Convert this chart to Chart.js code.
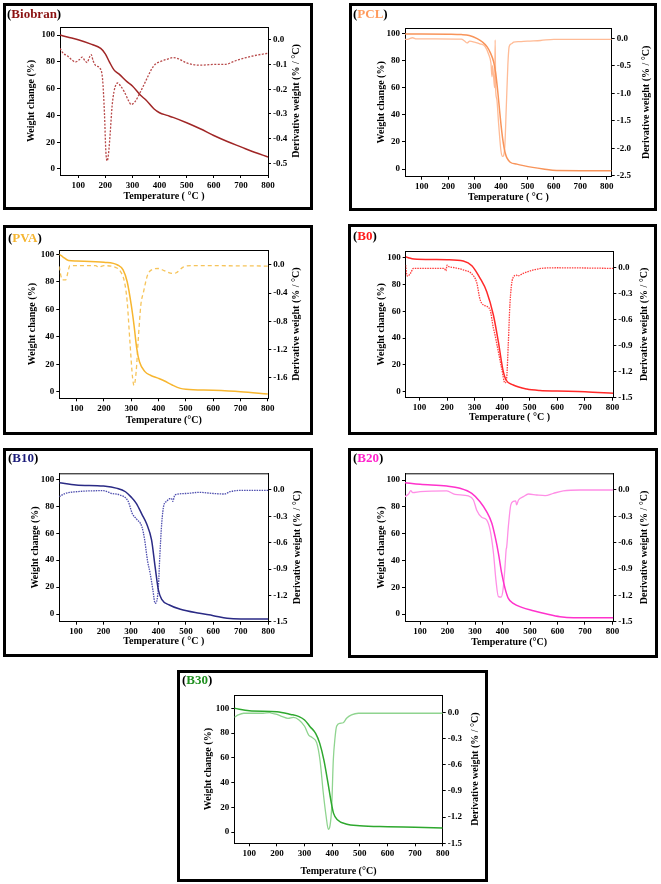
<!DOCTYPE html>
<html>
<head>
<meta charset="utf-8">
<script src="https://cdn.jsdelivr.net/npm/chart.js@4.4.1/dist/chart.umd.min.js"></script>
<style>
  html, body { margin: 0; padding: 0; background: #fff; }
  body { width: 661px; height: 884px; position: relative; overflow: hidden; font-family: 'Liberation Serif', serif; }
  .panel { position: absolute; border: 3px solid #000; box-sizing: border-box; background: #fff; }
  .panel canvas { position: absolute; left: 0; top: 0; }
  .tag { position: absolute; font-weight: bold; font-size: 13px; line-height: 13px; color: #000; white-space: nowrap; }
</style>
</head>
<body>
<script>
// ---- data ----
const tempTicks = [100, 200, 300, 400, 500, 600, 700, 800];
const weightTicks = [0, 20, 40, 60, 80, 100];
const biobranDerivTicks = [0, -0.1, -0.2, -0.3, -0.4, -0.5];
const pclDerivTicks = [0, -0.5, -1, -1.5, -2, -2.5];
const pvaDerivTicks = [0, -0.4, -0.8, -1.2, -1.6];
const blendDerivTicks = [0, -0.3, -0.6, -0.9, -1.2, -1.5];

const biobranWeightT = [33, 60, 100, 150, 183, 200, 215, 232, 250, 281, 300, 330, 350, 379, 400, 428, 450, 500, 550, 600, 650, 700, 750, 800];
const biobranWeight = [100, 98.5, 96.5, 93, 90, 86, 80, 74, 71, 65, 62, 55, 51.5, 45, 42, 40, 38.5, 34.5, 30, 25, 20.5, 16.5, 12.5, 9];
const biobranDerivT = [33, 45, 60, 75, 90, 105, 115, 125, 133, 142, 148, 155, 165, 180, 190, 197, 202, 207, 212, 218, 225, 232, 240, 246, 255, 270, 285, 295, 310, 330, 350, 370, 385, 400, 430, 450, 470, 500, 550, 600, 640, 680, 720, 760, 800];
const biobranDeriv = [-0.035, -0.055, -0.065, -0.08, -0.09, -0.08, -0.07, -0.085, -0.092, -0.07, -0.06, -0.085, -0.105, -0.115, -0.16, -0.3, -0.45, -0.49, -0.46, -0.38, -0.27, -0.21, -0.18, -0.175, -0.185, -0.21, -0.245, -0.262, -0.25, -0.21, -0.165, -0.12, -0.098, -0.09, -0.078, -0.072, -0.077, -0.094, -0.103, -0.1, -0.1, -0.085, -0.072, -0.062, -0.055];

const pclWeightT = [37, 100, 200, 250, 280, 310, 330, 347, 360, 372, 380, 388, 394, 400, 406, 412, 418, 423, 435, 460, 485, 520, 560, 610, 700, 819];
const pclWeight = [100, 100, 99.8, 99.5, 98.8, 96.5, 94, 90.6, 86, 79.5, 71, 57, 45, 33, 23, 15.5, 10.5, 8, 5, 3.6, 2.5, 1.2, 0, -1.2, -1.3, -1.3];
const pclDerivT = [37, 50, 65, 80, 150, 250, 262, 272, 282, 300, 320, 340, 354, 362, 366, 368, 372, 376, 378, 380, 384, 391, 400, 406, 414, 420, 426, 431, 440, 448, 470, 500, 550, 600, 700, 819];
const pclDeriv = [-0.02, -0.015, 0.01, -0.01, -0.01, -0.015, -0.05, -0.085, -0.05, -0.07, -0.1, -0.15, -0.3, -0.45, -0.7, -0.5, -0.7, -0.9, -0.03, -0.95, -1.1, -1.55, -2.05, -2.15, -2.0, -1.27, -0.49, -0.15, -0.1, -0.07, -0.06, -0.05, -0.04, -0.02, -0.02, -0.02];

const pvaWeightT = [36, 50, 70, 100, 200, 250, 270, 285, 300, 310, 320, 330, 350, 370, 400, 420, 450, 480, 500, 600, 700, 800];
const pvaWeight = [100, 98, 95.5, 95.1, 94.2, 92.2, 88.6, 80, 63, 48.5, 31.5, 21.8, 14.6, 12, 9.7, 8, 4.9, 2.4, 1.7, 1, 0, -1.7];
const pvaDerivT = [36, 42, 48, 60, 68, 75, 100, 170, 180, 200, 240, 260, 275, 285, 295, 305, 310, 318, 325, 335, 345, 360, 380, 400, 420, 450, 465, 490, 520, 600, 800];
const pvaDeriv = [-0.02, -0.15, -0.21, -0.21, -0.1, -0.01, -0.01, -0.01, -0.03, -0.01, -0.03, -0.09, -0.24, -0.52, -1.09, -1.61, -1.71, -1.51, -1.09, -0.57, -0.38, -0.14, -0.06, -0.05, -0.08, -0.12, -0.11, -0.03, -0.01, -0.01, -0.015];

const b0WeightT = [50, 60, 80, 150, 200, 259, 290, 320, 344, 368, 386, 404, 414, 440, 489, 537, 600, 700, 803];
const b0Weight = [100.7, 100, 99, 98.6, 98.5, 97.5, 94, 84.6, 74.6, 57.2, 37.3, 14.9, 8.7, 5, 2, 0.9, 0.5, 0, -1.2];
const b0DerivT = [50, 53, 57, 67, 78, 150, 190, 196, 200, 205, 230, 259, 288, 308, 318, 325, 337, 356, 368, 372, 376, 386, 398, 410, 416, 422, 428, 438, 452, 456, 476, 513, 549, 600, 803];
const b0Deriv = [0.026, -0.07, -0.1, -0.07, -0.012, -0.012, -0.012, -0.04, 0.026, 0.01, -0.005, -0.03, -0.07, -0.18, -0.35, -0.41, -0.44, -0.49, -0.7, -0.75, -0.81, -0.97, -1.16, -1.33, -1.28, -0.89, -0.43, -0.13, -0.09, -0.1, -0.07, -0.03, -0.01, -0.005, -0.012];

const b10WeightT = [39, 100, 200, 250, 280, 300, 320, 340, 357, 375, 388, 400, 412, 440, 480, 550, 600, 650, 700, 800];
const b10Weight = [97.5, 95.8, 95, 93.3, 90.8, 87, 82, 74, 67, 55, 35, 17.8, 10.9, 6.7, 3.5, 0.5, -1.2, -3.2, -3.7, -3.7];
const b10DerivT = [39, 60, 100, 200, 230, 260, 290, 305, 320, 340, 350, 360, 370, 380, 388, 395, 400, 405, 412, 420, 430, 440, 448, 452, 460, 500, 550, 600, 640, 660, 700, 800];
const b10Deriv = [-0.076, -0.04, -0.02, -0.008, -0.04, -0.057, -0.13, -0.27, -0.33, -0.42, -0.57, -0.8, -0.95, -1.14, -1.29, -1.25, -1.1, -0.76, -0.38, -0.17, -0.13, -0.1, -0.1, -0.13, -0.057, -0.04, -0.027, -0.04, -0.046, -0.02, -0.004, -0.004];

const b20WeightT = [45, 100, 197, 245, 288, 318, 342, 361, 373, 385, 397, 409, 421, 439, 470, 512, 561, 609, 658, 803];
const b20Weight = [98, 96.8, 95.5, 93.8, 90, 83.8, 76.4, 67.7, 57.7, 45.3, 30.3, 19.2, 11.7, 8, 5, 2.5, 0, -2, -2.7, -2.7];
const b20DerivT = [45, 58, 66, 73, 100, 197, 227, 276, 294, 306, 324, 342, 355, 367, 376, 385, 395, 403, 409, 413, 415, 421, 430, 439, 448, 451, 458, 476, 494, 524, 555, 585, 621, 682, 803];
const b20Deriv = [-0.076, -0.046, -0.008, -0.03, -0.019, -0.011, -0.05, -0.068, -0.114, -0.23, -0.31, -0.34, -0.46, -0.72, -1.03, -1.215, -1.22, -1.1, -0.87, -0.68, -0.65, -0.42, -0.17, -0.13, -0.125, -0.17, -0.114, -0.076, -0.046, -0.057, -0.065, -0.038, -0.011, 0, 0];

const b30WeightT = [46, 100, 200, 250, 280, 300, 320, 340, 355, 370, 385, 395, 405, 420, 450, 500, 600, 700, 800];
const b30Weight = [100, 98, 97.3, 95.1, 93.3, 90.6, 85.2, 79.8, 71.7, 58.2, 39.4, 25.9, 15.1, 9.7, 6.5, 5.1, 4.3, 3.8, 3.2];
const b30DerivT = [46, 60, 80, 150, 175, 180, 200, 220, 240, 260, 280, 300, 315, 328, 344, 356, 368, 378, 386, 392, 398, 404, 410, 416, 428, 440, 452, 470, 495, 600, 800];
const b30Deriv = [-0.057, -0.03, -0.011, -0.011, -0.003, -0.011, -0.023, -0.05, -0.069, -0.058, -0.088, -0.16, -0.26, -0.29, -0.35, -0.55, -0.93, -1.19, -1.34, -1.3, -1.1, -0.55, -0.3, -0.16, -0.126, -0.12, -0.069, -0.03, -0.011, -0.011, -0.011];

// ---- panel layout (page px) ----
const panels = [
  { name: 'Biobran', tag: '#8b1212', wCol: '#a02626', dCol: '#b84a4a', dDash: [2, 1.5],
    box: [3, 3, 310, 207], plot: [60, 27, 268, 175], tagXY: [7, 7],
    x: [33, 800], w: [-4.5, 106], d: [-0.547, 0.0515], dTicks: biobranDerivTicks,
    yTitleX: 31.7, y1TitleX: 296.7, xTitleY: 196.7, xTitle: 'Temperature ( °C )', dTitle: 'Derivative weight (% / °C)',
    wT: biobranWeightT, wV: biobranWeight, dT: biobranDerivT, dV: biobranDeriv },
  { name: 'PCL', tag: '#ff9a5c', wCol: '#f8945a', dCol: '#ffbb96', dDash: [],
    box: [349, 3, 308, 208], plot: [405, 28, 611.7, 176.7], tagXY: [353, 7],
    x: [36.8, 819], w: [-5.7, 104.4], d: [-2.518, 0.187], dTicks: pclDerivTicks,
    yTitleX: 381.7, y1TitleX: 646, xTitleY: 197.3, xTitle: 'Temperature ( °C )', dTitle: 'Derivative weight (% / °C)',
    wT: pclWeightT, wV: pclWeight, dT: pclDerivT, dV: pclDeriv },
  { name: 'PVA', tag: '#f5b530', wCol: '#f7b630', dCol: '#f6c45a', dDash: [4, 3],
    box: [3, 225, 310, 210], plot: [59.3, 250, 268.3, 398.3], tagXY: [8, 231],
    x: [36.3, 802], w: [-4.8, 103.1], d: [-1.893, 0.213], dTicks: pvaDerivTicks,
    yTitleX: 32.7, y1TitleX: 296, xTitleY: 420, xTitle: 'Temperature (°C)', dTitle: 'Derivative weight (% / °C)',
    wT: pvaWeightT, wV: pvaWeight, dT: pvaDerivT, dV: pvaDeriv },
  { name: 'B0', tag: '#ff1a1a', wCol: '#ff2a2a', dCol: '#ff3c3c', dDash: [1.5, 1],
    box: [348, 224, 309, 211], plot: [405.7, 251, 613.3, 397.7], tagXY: [353, 229],
    x: [50, 803], w: [-4.5, 105], d: [-1.5, 0.188], dTicks: blendDerivTicks,
    yTitleX: 381.7, y1TitleX: 644, xTitleY: 417.3, xTitle: 'Temperature ( °C )', dTitle: 'Derivative weight (% / °C)',
    wT: b0WeightT, wV: b0Weight, dT: b0DerivT, dV: b0Deriv },
  { name: 'B10', tag: '#1c1c7a', wCol: '#2a2a85', dCol: '#4d4dae', dDash: [1.5, 1],
    box: [3, 448, 310, 209], plot: [59.3, 473.3, 268.3, 621.7], tagXY: [8, 451],
    x: [39.2, 800], w: [-5.7, 104.5], d: [-1.5, 0.19], dTicks: blendDerivTicks,
    yTitleX: 35, y1TitleX: 297.7, xTitleY: 641.7, xTitle: 'Temperature ( °C )', dTitle: 'Derivative weight (% / °C)',
    wT: b10WeightT, wV: b10Weight, dT: b10DerivT, dV: b10Deriv },
  { name: 'B20', tag: '#ff22cc', wCol: '#ff33cc', dCol: '#ff8fe6', dDash: [],
    box: [348, 448, 310, 210], plot: [405, 473.3, 613.3, 621.7], tagXY: [353, 451],
    x: [45, 803], w: [-5.7, 105], d: [-1.5, 0.19], dTicks: blendDerivTicks,
    yTitleX: 381.7, y1TitleX: 644, xTitleY: 642.3, xTitle: 'Temperature (°C)', dTitle: 'Derivative weight (% / °C)',
    wT: b20WeightT, wV: b20Weight, dT: b20DerivT, dV: b20Deriv },
  { name: 'B30', tag: '#1f8f1f', wCol: '#2ea82e', dCol: '#8fd48f', dDash: [],
    box: [177, 670, 311, 212], plot: [234.3, 695, 442.7, 843.3], tagXY: [182, 673],
    x: [45.7, 800], w: [-9.1, 110.8], d: [-1.5, 0.198], dTicks: blendDerivTicks,
    yTitleX: 208.3, y1TitleX: 475, xTitleY: 871.7, xTitle: 'Temperature (°C)', dTitle: 'Derivative weight (% / °C)',
    wT: b30WeightT, wV: b30Weight, dT: b30DerivT, dV: b30Deriv }
];

const FONT = "'Liberation Serif', 'Times New Roman', serif";
const tickFont = { family: FONT, size: 9, weight: 'bold' };
const titleFont = { family: FONT, size: 10, weight: 'bold', lineHeight: 1.2 };
const HALF_LH = 6;

// top edge of the plot frame
const frameTop = {
  id: 'frameTop',
  afterDraw(chart) {
    const { ctx, chartArea: a } = chart;
    ctx.save();
    ctx.strokeStyle = '#000';
    ctx.lineWidth = 1;
    ctx.beginPath();
    ctx.moveTo(a.left, a.top + 0.5);
    ctx.lineTo(a.right, a.top + 0.5);
    ctx.stroke();
    ctx.restore();
  }
};

// right axis title reads bottom-to-top like the left one
const rightTitle = {
  id: 'rightTitle',
  afterDraw(chart, args, opts) {
    const { ctx, chartArea: a } = chart;
    ctx.save();
    ctx.translate(opts.x, (a.top + a.bottom) / 2);
    ctx.rotate(-Math.PI / 2);
    ctx.font = 'bold 10px ' + FONT;
    ctx.fillStyle = '#000';
    ctx.textAlign = 'center';
    ctx.textBaseline = 'middle';
    ctx.fillText(opts.text, 0, 0);
    ctx.restore();
  }
};

const toPoints = (xs, ys) => xs.map((x, i) => ({ x, y: ys[i] }));
const setTicks = vals => scale => { scale.ticks = vals.map(v => ({ value: v })); };

panels.forEach(p => {
  const [bx, by, bw, bh] = p.box;
  const div = document.createElement('div');
  div.className = 'panel';
  Object.assign(div.style, { left: bx + 'px', top: by + 'px', width: bw + 'px', height: bh + 'px' });
  document.body.appendChild(div);

  const inL = bx + 3, inT = by + 3, inW = bw - 6, inH = bh - 6;
  const inR = inL + inW, inB = inT + inH;
  const [pl, pt, pr, pb] = p.plot;

  const canvas = document.createElement('canvas');
  canvas.width = inW;
  canvas.height = inH;
  canvas.style.width = inW + 'px';
  canvas.style.height = inH + 'px';
  div.appendChild(canvas);

  const tag = document.createElement('div');
  tag.className = 'tag';
  tag.style.left = (p.tagXY[0] - inL) + 'px';
  tag.style.top = (p.tagXY[1] - inT) + 'px';
  tag.innerHTML = '(<span style="color:' + p.tag + '">' + p.name + '</span>)';
  div.appendChild(tag);

  const axisBase = {
    border: { display: true, color: '#000', width: 1 },
    grid: { drawOnChartArea: false, color: '#000', tickLength: 3, tickWidth: 1 },
    ticks: { color: '#000', font: tickFont, padding: 2 }
  };

  new Chart(canvas, {
    type: 'line',
    data: {
      datasets: [
        { label: 'Weight', data: toPoints(p.wT, p.wV), yAxisID: 'y',
          borderColor: p.wCol, borderWidth: 1.5, pointRadius: 0, cubicInterpolationMode: 'monotone' },
        { label: 'Derivative', data: toPoints(p.dT, p.dV), yAxisID: 'y1',
          borderColor: p.dCol, borderWidth: 1.3, borderDash: p.dDash, pointRadius: 0, cubicInterpolationMode: 'monotone' }
      ]
    },
    options: {
      responsive: false,
      animation: false,
      layout: { padding: { top: pt - inT, left: 0, right: 0, bottom: 0 } },
      plugins: {
        legend: { display: false },
        tooltip: { enabled: false },
        rightTitle: { x: p.y1TitleX - inL, text: p.dTitle }
      },
      scales: {
        x: {
          ...axisBase, type: 'linear', position: 'bottom', min: p.x[0], max: p.x[1],
          afterBuildTicks: setTicks(tempTicks),
          afterFit: s => { s.height = inB - pb; },
          ticks: { ...axisBase.ticks, maxRotation: 0, autoSkip: false },
          title: { display: true, text: p.xTitle, color: '#000', font: titleFont,
                   padding: { top: 0, bottom: inB - p.xTitleY - HALF_LH } }
        },
        y: {
          ...axisBase, type: 'linear', position: 'left', min: p.w[0], max: p.w[1],
          afterBuildTicks: setTicks(weightTicks),
          afterFit: s => { s.width = pl - inL; },
          title: { display: true, text: 'Weight change (%)', color: '#000', font: titleFont,
                   padding: { top: p.yTitleX - inL - HALF_LH, bottom: 0 } }
        },
        y1: {
          ...axisBase, type: 'linear', position: 'right', min: p.d[0], max: p.d[1],
          afterBuildTicks: setTicks(p.dTicks),
          afterFit: s => { s.width = inR - pr; },
          ticks: { ...axisBase.ticks, callback: v => v.toFixed(1) },
          title: { display: false }
        }
      }
    },
    plugins: [frameTop, rightTitle]
  });
});
</script>
</body>
</html>
